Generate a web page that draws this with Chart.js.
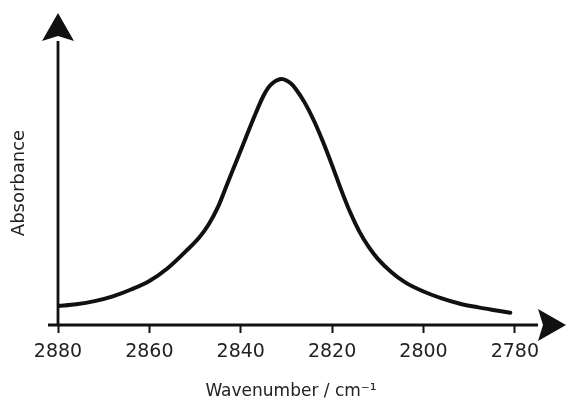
<!DOCTYPE html>
<html>
<head>
<meta charset="utf-8">
<script src="https://cdn.jsdelivr.net/npm/chart.js@4/dist/chart.umd.min.js"></script>
<style>
  html, body { margin: 0; padding: 0; background: #fff; }
  #wrap { width: 566px; height: 400px; }
</style>
</head>
<body>
<div id="wrap"><canvas id="ir-chart" width="566" height="400"></canvas></div>
<script>
// wavenumber (cm-1) and absorbance (arbitrary units)
const wavenumbers = [
  2880, 2876, 2872, 2868, 2864, 2860, 2856, 2852, 2849, 2847, 2845, 2843,
  2841, 2839, 2837, 2835, 2834, 2833, 2832, 2831, 2830, 2829, 2828, 2826,
  2824, 2822, 2820, 2818, 2816, 2814, 2812, 2810, 2807, 2804, 2800, 2796,
  2792, 2788, 2784, 2781,
];
const absorbance = [
  0.067, 0.073, 0.084, 0.101, 0.125, 0.155, 0.200, 0.260, 0.310, 0.355, 0.415, 0.495,
  0.575, 0.655, 0.735, 0.808, 0.835, 0.852, 0.862, 0.866, 0.861, 0.850, 0.832, 0.783,
  0.720, 0.645, 0.562, 0.475, 0.395, 0.328, 0.275, 0.233, 0.186, 0.150, 0.118, 0.094,
  0.075, 0.062, 0.051, 0.043,
];
const tickValues = [2880, 2860, 2840, 2820, 2800, 2780];

const INK = "#111";
const TEXT = "#222";

// axis lines with arrow heads, drawn past the plot area like the original
const arrowAxes = {
  id: "arrowAxes",
  afterDraw(chart) {
    const { ctx, chartArea } = chart;
    const x0 = chartArea.left;
    const y0 = chartArea.bottom;
    const len = 28, half = 16, notch = 5;
    const yTip = chartArea.top - len;
    const xTip = chart.width;

    ctx.save();
    ctx.strokeStyle = INK;
    ctx.fillStyle = INK;
    ctx.lineWidth = 2.8;
    ctx.beginPath();
    ctx.moveTo(x0, y0);
    ctx.lineTo(x0, yTip + len);
    ctx.moveTo(x0 - 10, y0);
    ctx.lineTo(xTip - len, y0);
    ctx.stroke();

    ctx.beginPath();
    ctx.moveTo(x0, yTip);
    ctx.lineTo(x0 + half, yTip + len);
    ctx.lineTo(x0, yTip + len - notch);
    ctx.lineTo(x0 - half, yTip + len);
    ctx.closePath();
    ctx.fill();

    ctx.beginPath();
    ctx.moveTo(xTip, y0);
    ctx.lineTo(xTip - len, y0 - half);
    ctx.lineTo(xTip - len + notch, y0);
    ctx.lineTo(xTip - len, y0 + half);
    ctx.closePath();
    ctx.fill();
    ctx.restore();
  },
};

const points = wavenumbers.map((w, i) => ({ x: w, y: absorbance[i] }));

new Chart(document.getElementById("ir-chart"), {
  type: "line",
  data: {
    datasets: [{
      data: points,
      borderColor: INK,
      borderWidth: 4,
      pointRadius: 0,
      fill: false,
      cubicInterpolationMode: "monotone",
      borderCapStyle: "round",
      borderJoinStyle: "round",
    }],
  },
  options: {
    responsive: false,
    animation: false,
    devicePixelRatio: 1,
    layout: { padding: { top: 41, right: 42, left: 0, bottom: 0 } },
    plugins: { legend: { display: false }, tooltip: { enabled: false } },
    scales: {
      x: {
        type: "linear",
        reverse: true,
        min: 2778,
        max: 2880,
        afterBuildTicks: (scale) => {
          scale.ticks = tickValues.map((v) => ({ value: v }));
        },
        afterFit: (scale) => { scale.height = 75; },
        border: { display: false },
        grid: {
          drawOnChartArea: false,
          drawTicks: true,
          tickLength: 8,
          tickWidth: 2,
          tickColor: INK,
        },
        ticks: {
          color: TEXT,
          padding: 8,
          maxRotation: 0,
          callback: (v) => String(v),
          font: { family: "DejaVu Sans", size: 19 },
        },
        title: {
          display: true,
          text: "Wavenumber / cm⁻¹",
          color: TEXT,
          padding: { top: 0, bottom: 0 },
          font: { family: "DejaVu Sans", size: 17, lineHeight: 1 },
        },
      },
      y: {
        min: 0,
        max: 1,
        afterFit: (scale) => { scale.width = 58; },
        border: { display: false },
        grid: { display: false },
        ticks: { display: false },
        title: {
          display: true,
          text: "Absorbance",
          color: TEXT,
          padding: { top: 9, bottom: 0 },
          font: { family: "DejaVu Sans", size: 18 },
        },
      },
    },
  },
  plugins: [arrowAxes],
});
</script>
</body>
</html>
